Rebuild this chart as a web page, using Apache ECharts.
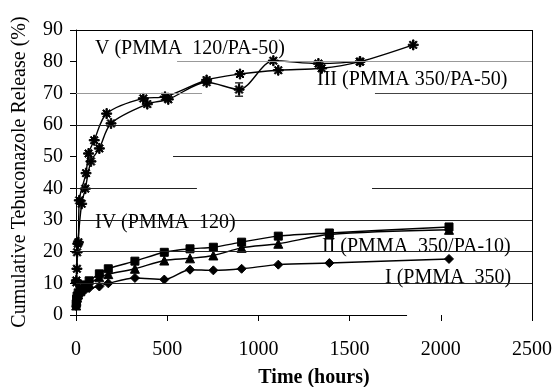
<!DOCTYPE html>
<html><head><meta charset="utf-8">
<script src="https://cdn.jsdelivr.net/npm/echarts@6/dist/echarts.min.js"></script>
<style>html,body{margin:0;padding:0;background:#fff}#c{width:557px;height:387px}</style>
</head><body><div id="c"></div>
<script>
// ---- data ----
const xTicks = [0, 500, 1000, 1500, 2000, 2500];
const yTicks = [0, 10, 20, 30, 40, 50, 60, 70, 80, 90];
const tLow = [1, 3, 6, 12, 24, 48, 72, 128, 177, 323, 484, 625, 753, 908, 1109, 1389, 2045];
const vI   = [2.8, 3.8, 4.8, 5.8, 6.8, 7.8, 8.5, 9.0, 10.0, 11.7, 11.2, 14.3, 14.1, 14.6, 15.9, 16.4, 17.7];
const vII  = [3.0, 4.5, 5.5, 6.5, 7.5, 8.8, 9.8, 11.9, 12.9, 14.6, 17.2, 17.9, 18.8, 21.2, 22.5, 25.4, 26.9];
const vIV  = [3.5, 5.0, 6.0, 7.0, 8.2, 9.5, 10.8, 13.0, 14.6, 17.0, 19.8, 20.9, 21.4, 23.0, 24.9, 25.9, 27.8];
const tV   = [2, 6, 13, 18, 55, 69, 100, 168, 369, 488, 716, 899, 1109, 1347, 1557, 1849];
const vV   = [10.3, 19.8, 23.0, 36.2, 44.8, 51.0, 55.2, 63.6, 68.4, 68.9, 74.2, 76.1, 77.3, 77.9, 80.0, 85.3];
const tIII = [2, 5, 10, 31, 51, 82, 128, 192, 391, 506, 716, 894, 1082, 1329, 1557];
const vIII = [10.9, 14.6, 22.5, 35.1, 39.9, 48.5, 52.6, 60.5, 66.6, 68.1, 73.5, 71.2, 80.3, 79.4, 80.0];
const errIII = [[894, 69.1, 73.3], [1557, 79.2, 80.8]];
const labels = ["V (PMMA  120/PA-50)", "III (PMMA 350/PA-50)", "IV (PMMA  120)", "II (PMMA  350/PA-10)", "I (PMMA  350)"];
const xTitle = "Time (hours)";
const yTitle = "Cumulative Tebuconazole Release (%)";

// ---- chart ----
const FONT = '"Liberation Serif", "Times New Roman", serif';
const pair = (t, v) => t.map((x, i) => [x, v[i]]);
const starPath = 'path://M-0.7,-5L0.7,-5L0.7,5L-0.7,5Z M-5,-0.7L5,-0.7L5,0.7L-5,0.7Z M-3,-4L4,3L3,4L-4,-3Z M3,-4L4,-3L-3,4L-4,3Z';
const lineSeries = (name, data, symbol, size) => ({
  name, type: 'line', data, smooth: 0.3, symbol, symbolSize: size,
  lineStyle: { color: '#000', width: 1.4 }, itemStyle: { color: '#000', borderColor: '#000' },
  animation: false, z: 3
});
const seg = (x1, y1, x2, y2, c) => [{ coord: [x1, y1], lineStyle: { color: c || '#222', width: 1, type: 'solid' } }, { coord: [x2, y2] }];

const chart = echarts.init(document.getElementById('c'), null, { renderer: 'canvas' });
chart.setOption({
  animation: false,
  grid: { left: 76, top: 30, right: 25, bottom: 72 },
  xAxis: {
    type: 'value', min: xTicks[0], max: xTicks[xTicks.length - 1], interval: 500,
    splitLine: { show: false }, axisLine: { show: false },
    axisTick: { show: true, length: 6, lineStyle: { color: '#000' } },
    axisLabel: { margin: 25, color: '#000', fontFamily: FONT, fontSize: 20, formatter: v => String(v) }
  },
  yAxis: {
    type: 'value', min: yTicks[0], max: yTicks[yTicks.length - 1], interval: 10,
    splitLine: { show: false },
    axisLine: { show: true, lineStyle: { color: '#000', width: 1 } },
    axisTick: { show: true, length: 6, lineStyle: { color: '#000' } },
    axisLabel: { margin: 13, color: '#000', fontFamily: FONT, fontSize: 20, formatter: v => String(v) }
  },
  series: [
    {
      type: 'line', data: [], silent: true, animation: false, z: 1,
      markLine: {
        silent: true, symbol: ['none', 'none'], label: { show: false }, animation: false,
        emphasis: { disabled: true },
        data: [
          seg(554, 80, 2500, 80, '#999'),
          seg(0, 70, 691, 70, '#999'), seg(1639, 70, 2500, 70, '#444'),
          seg(0, 60, 2500, 60), seg(532, 50, 2500, 50),
          seg(0, 40, 663, 40), seg(1623, 40, 2500, 40),
          seg(0, 30, 2500, 30), seg(0, 20, 2500, 20), seg(0, 10, 2500, 10),
          seg(0, 0, 1815, 0, '#000'), seg(0, 90, 2500, 90, '#000'), seg(2500, 0, 2500, 90, '#000')
        ]
      }
    },
    lineSeries('I', pair(tLow, vI), 'diamond', 9),
    lineSeries('II', pair(tLow, vII), 'triangle', 9),
    lineSeries('IV', pair(tLow, vIV), 'rect', 8),
    lineSeries('III', pair(tIII, vIII), starPath, 10),
    lineSeries('V', pair(tV, vV), starPath, 10),
    {
      type: 'custom', data: errIII, animation: false, z: 4,
      renderItem: (params, api) => {
        const x = api.value(0);
        const p1 = api.coord([x, api.value(1)]);
        const p2 = api.coord([x, api.value(2)]);
        const w = 4;
        const st = { stroke: '#000', lineWidth: 1.2 };
        return { type: 'group', children: [
          { type: 'line', shape: { x1: p1[0], y1: p1[1], x2: p2[0], y2: p2[1] }, style: st },
          { type: 'line', shape: { x1: p1[0] - w, y1: p1[1], x2: p1[0] + w, y2: p1[1] }, style: st },
          { type: 'line', shape: { x1: p2[0] - w, y1: p2[1], x2: p2[0] + w, y2: p2[1] }, style: st }
        ] };
      }
    }
  ],
  graphic: [
    { type: 'text', left: 95, top: 39, style: { text: labels[0], font: '20px ' + FONT, fill: '#000' } },
    { type: 'text', left: 317, top: 70, style: { text: labels[1], font: '20px ' + FONT, fill: '#000' } },
    { type: 'text', left: 95, top: 213, style: { text: labels[2], font: '20px ' + FONT, fill: '#000' } },
    { type: 'text', left: 322, top: 237, style: { text: labels[3], font: '20px ' + FONT, fill: '#000' } },
    { type: 'text', left: 385, top: 268, style: { text: labels[4], font: '20px ' + FONT, fill: '#000' } },
    { type: 'text', x: 314, y: 378, style: { text: xTitle, font: 'bold 20px ' + FONT, fill: '#000', textAlign: 'center', textVerticalAlign: 'middle' } },
    { type: 'text', x: 20, y: 172, rotation: Math.PI / 2, style: { text: yTitle, font: '20px ' + FONT, fill: '#000', textAlign: 'center', textVerticalAlign: 'middle' } }
  ]
});
</script></body></html>
